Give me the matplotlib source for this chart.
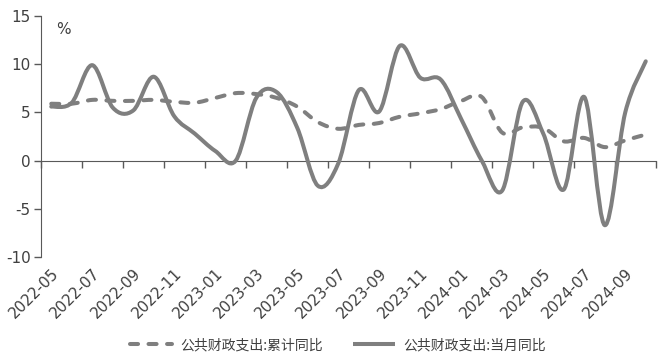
import matplotlib
matplotlib.use("Agg")
import matplotlib.pyplot as plt
from matplotlib.path import Path
from matplotlib.patches import PathPatch
from matplotlib.lines import Line2D
import numpy as np

months = ['2022-05', '2022-06', '2022-07', '2022-08', '2022-09', '2022-10', '2022-11', '2022-12',
          '2023-01', '2023-02', '2023-03', '2023-04', '2023-05', '2023-06', '2023-07', '2023-08',
          '2023-09', '2023-10', '2023-11', '2023-12', '2024-01', '2024-02', '2024-03', '2024-04',
          '2024-05', '2024-06', '2024-07', '2024-08', '2024-09', '2024-10']
tick_labels = months[::2]

cumulative = [5.9, 5.9, 6.3, 6.2, 6.2, 6.3, 6.1, 6.0, 6.5, 7.0, 6.9, 6.5, 5.6, 4.0, 3.3, 3.7,
              3.9, 4.55, 4.9, 5.35, 6.2, 6.6, 2.9, 3.45, 3.4, 2.0, 2.35, 1.4, 2.1, 2.7]
monthly = [5.6, 6.0, 9.9, 5.5, 5.2, 8.7, 4.6, 2.8, 1.0, 0.0, 6.5, 7.1, 3.4, -2.6, -0.3, 7.3,
           5.1, 11.9, 8.6, 8.4, 4.3, 0.0, -3.1, 6.1, 2.8, -3.0, 6.6, -6.7, 5.0, 10.3]

name_cum = '公共财政支出:累计同比'
name_mon = '公共财政支出:当月同比'

GRAY = '#7f7f7f'
AXC = '#595959'
TXT = '#404040'

plt.rcParams['font.family'] = ['DejaVu Sans', 'Noto Sans CJK SC']
plt.rcParams['axes.unicode_minus'] = False


def smooth_path(xs, ys):
    xs = np.asarray(xs, float)
    ys = np.asarray(ys, float)
    n = len(xs)
    verts = [(xs[0], ys[0])]
    codes = [Path.MOVETO]
    for i in range(n - 1):
        i0 = max(i - 1, 0)
        i3 = min(i + 2, n - 1)
        c1 = (xs[i] + (xs[i + 1] - xs[i0]) / 6.0, ys[i] + (ys[i + 1] - ys[i0]) / 6.0)
        c2 = (xs[i + 1] - (xs[i3] - xs[i]) / 6.0, ys[i + 1] - (ys[i3] - ys[i]) / 6.0)
        verts += [c1, c2, (xs[i + 1], ys[i + 1])]
        codes += [Path.CURVE4] * 3
    return Path(verts, codes)


fig = plt.figure(figsize=(6.61, 3.59), dpi=100)
ax = fig.add_axes([41 / 661, 1 - 257 / 359, 615 / 661, 241 / 359])

x = np.arange(len(months))
lw = 2.9
p_cum = PathPatch(smooth_path(x, cumulative), fill=False, edgecolor=GRAY, lw=lw,
                  linestyle=(0, (2.0, 2.6)), capstyle='round', joinstyle='round', zorder=3)
p_mon = PathPatch(smooth_path(x, monthly), fill=False, edgecolor=GRAY, lw=lw,
                  capstyle='round', joinstyle='round', zorder=4)
ax.add_patch(p_cum)
ax.add_patch(p_mon)

ax.set_xlim(-0.5, len(months) - 0.5)
ax.set_ylim(-10, 15)
ax.set_yticks([-10, -5, 0, 5, 10, 15])
ax.tick_params(axis='y', length=5, width=1, color=AXC, labelcolor=TXT, labelsize=11, pad=2.5)

for s in ['top', 'right']:
    ax.spines[s].set_visible(False)
ax.spines['left'].set_color(AXC)
ax.spines['bottom'].set_color(AXC)
ax.spines['bottom'].set_position(('data', 0))
ax.set_xticks(np.arange(-0.5, len(months), 2))
ax.set_xticklabels([])
ax.tick_params(axis='x', length=5, width=1, color=AXC, direction='out')

sec = ax.secondary_xaxis(0.0)
sec.set_xticks(x[::2])
sec.set_xticklabels(tick_labels, rotation=45, ha='right', va='top', rotation_mode='anchor')
sec.tick_params(axis='x', length=0, labelcolor=TXT, labelsize=11, pad=6)
sec.spines['bottom'].set_visible(False)

ax.text(0.036, 0.945, '%', transform=ax.transAxes, ha='center', va='center', fontsize=11, color=TXT)

handles = [Line2D([], [], color=GRAY, lw=lw, linestyle=(0, (2.0, 2.6)), dash_capstyle='round'),
           Line2D([], [], color=GRAY, lw=lw, solid_capstyle='butt')]
fig.legend(handles, [name_cum, name_mon], loc='center', bbox_to_anchor=(338 / 661, 1 - 345 / 359),
           ncol=2, frameon=False, handlelength=3.0, handletextpad=0.6, columnspacing=2.2,
           prop={'family': ['Noto Sans CJK SC', 'DejaVu Sans'], 'size': 10}, labelcolor=TXT)

fig.savefig('out.png', dpi=100)
